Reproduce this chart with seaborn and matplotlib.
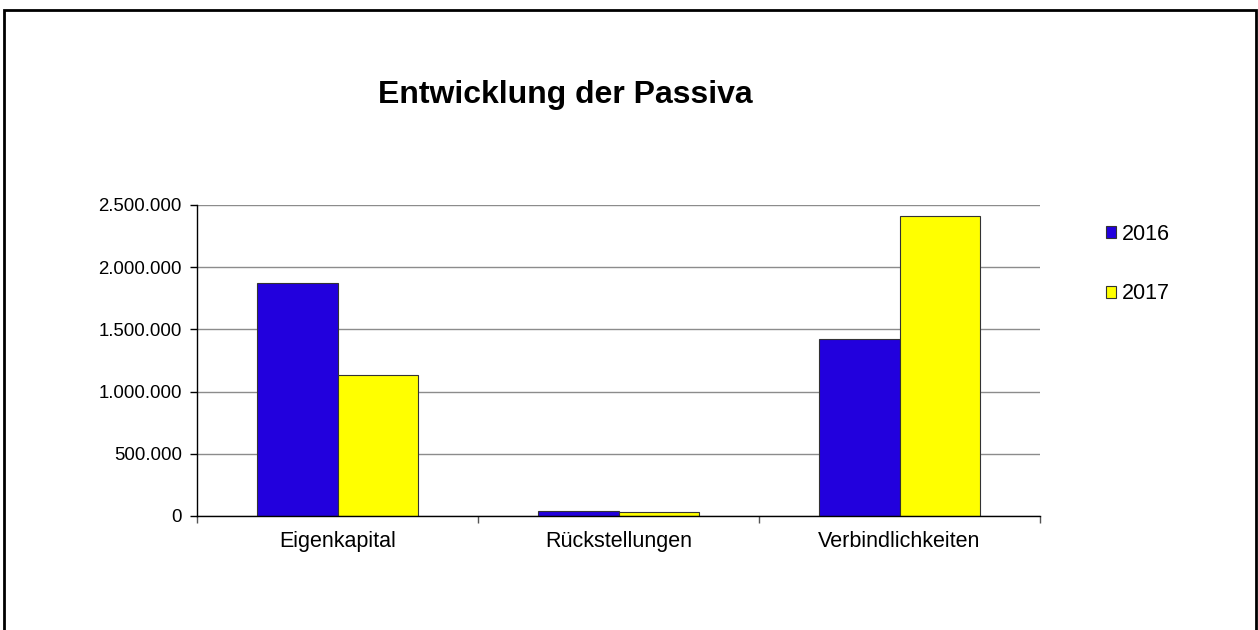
import matplotlib
matplotlib.use("Agg")

import matplotlib.pyplot as plt
import pandas as pd
import seaborn as sns
from matplotlib.patches import Patch, Rectangle
from matplotlib.ticker import FuncFormatter, FixedLocator

categories = ["Eigenkapital", "Rückstellungen", "Verbindlichkeiten"]
years = ["2016", "2017"]
values_2016 = [1870000, 40000, 1420000]
values_2017 = [1135000, 30000, 2415000]
colors = ["#2200DD", "#FFFF00"]

df = pd.DataFrame({
    "Kategorie": categories * 2,
    "Jahr": [years[0]] * 3 + [years[1]] * 3,
    "Wert": values_2016 + values_2017,
})

sns.set_style("white")
plt.rcParams["font.family"] = ["Liberation Sans", "DejaVu Sans"]
plt.rcParams["text.color"] = "black"
plt.rcParams["xtick.labelcolor"] = "black"
plt.rcParams["ytick.labelcolor"] = "black"

fig = plt.figure(figsize=(12.58, 6.30), dpi=100)
ax = fig.add_axes([197 / 1258, 1 - 516 / 630, 843 / 1258, 311 / 630])

sns.barplot(data=df, x="Kategorie", y="Wert", hue="Jahr", palette=colors,
            width=0.57, edgecolor="#333333", linewidth=0.8, ax=ax,
            legend=False, saturation=1)

ax.set_xlim(-0.5, 2.5)
ax.set_ylim(0, 2500000)
ax.set_yticks(range(0, 2500001, 500000))
ax.yaxis.set_major_formatter(
    FuncFormatter(lambda v, _: f"{int(v):,}".replace(",", ".")))
ax.yaxis.grid(True, color="#8c8c8c", linewidth=1)
ax.set_axisbelow(True)
ax.set_xlabel("")
ax.set_ylabel("")

for side in ["top", "right"]:
    ax.spines[side].set_visible(False)
for side in ["left", "bottom"]:
    ax.spines[side].set_color("black")
    ax.spines[side].set_linewidth(1)

ax.tick_params(axis="y", which="major", direction="out", length=5, width=1,
               color="black", labelsize=13.4, pad=6, left=True)
ax.tick_params(axis="x", which="major", length=0, labelsize=15.5, pad=11)
ax.xaxis.set_minor_locator(FixedLocator([-0.5, 0.5, 1.5, 2.5]))
ax.tick_params(axis="x", which="minor", direction="out", length=5, width=1,
               color="#555555", bottom=True)

fig.text(565 / 1258, 1 - 95 / 630, "Entwicklung der Passiva",
         ha="center", va="center", fontsize=23, fontweight="bold")

handles = [Patch(facecolor=c, edgecolor="#333333", linewidth=0.8, label=y)
           for c, y in zip(colors, years)]
fig.legend(handles=handles, loc="upper left",
           bbox_to_anchor=(1097 / 1258, 1 - 215 / 630),
           frameon=False, fontsize=15.5, handlelength=0.5, handleheight=0.5,
           handletextpad=0.25, labelspacing=1.8, borderaxespad=0)

fig.patches.append(Rectangle((4 / 1258, -0.01), 1252 / 1258, 1 - 10 / 630 + 0.01,
                             transform=fig.transFigure, fill=False,
                             edgecolor="black", linewidth=2))

fig.savefig("out.png", dpi=100, facecolor="white")
